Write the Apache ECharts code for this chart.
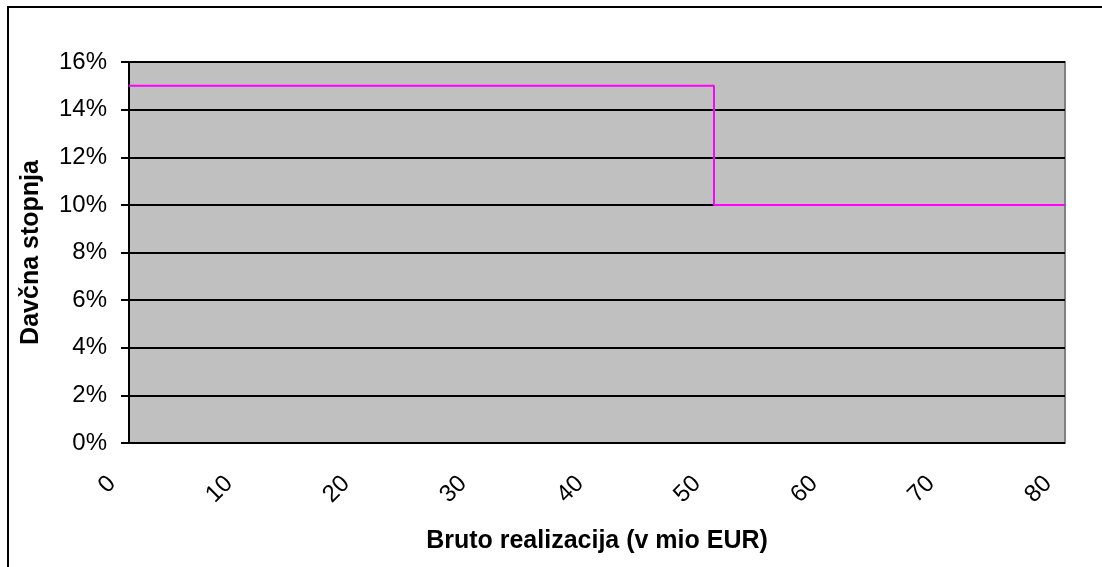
<!DOCTYPE html>
<html>
<head>
<meta charset="utf-8">
<script src="https://cdn.jsdelivr.net/npm/echarts@6/dist/echarts.min.js"></script>
<style>
  html, body { margin: 0; padding: 0; background: #fff; }
  #chart { width: 1102px; height: 567px; }
</style>
</head>
<body>
<div id="chart"></div>
<script>
// step line: rate 15% up to 50 mio EUR, then 10%
const xValues = [0, 50, 50, 80]
const rateValues = [15, 15, 10, 10]
const xTicks = [0, 10, 20, 30, 40, 50, 60, 70, 80]
const yTicks = [0, 2, 4, 6, 8, 10, 12, 14, 16]

const chart = echarts.init(document.getElementById('chart'))
const font = 'Liberation Sans, Arial, sans-serif'

chart.setOption({
  animation: false,
  textStyle: { fontFamily: font },
  graphic: [{
    type: 'rect',
    shape: { x: 8, y: 7, width: 1110, height: 580 },
    style: { fill: 'none', stroke: '#000', lineWidth: 2 },
    z: 100
  }],
  grid: {
    left: 129, right: 37, top: 62, bottom: 124,
    outerBoundsMode: 'none',
    containLabel: false,
    show: true,
    backgroundColor: '#c0c0c0',
    borderColor: '#808080',
    borderWidth: 2
  },
  xAxis: {
    type: 'value',
    min: xTicks[0],
    max: xTicks[xTicks.length - 1],
    interval: 10,
    name: 'Bruto realizacija (v mio EUR)',
    nameLocation: 'middle',
    nameGap: 86,
    nameTextStyle: { fontSize: 25, fontWeight: 'bold', color: '#000', fontFamily: font },
    axisLine: { show: false },
    axisTick: { show: false },
    splitLine: { show: false },
    axisLabel: { rotate: 45, margin: 20, padding: [0, 24, 0, 0], fontSize: 24, color: '#000', fontFamily: font }
  },
  yAxis: {
    type: 'value',
    min: yTicks[0],
    max: yTicks[yTicks.length - 1],
    interval: 2,
    name: 'Davčna stopnja',
    nameLocation: 'middle',
    nameGap: 85,
    nameTextStyle: { fontSize: 25, fontWeight: 'bold', color: '#000', fontFamily: font },
    axisLine: { show: true, lineStyle: { color: '#000', width: 2 } },
    axisTick: { show: true, length: 8, lineStyle: { color: '#000', width: 2 } },
    splitLine: { show: true, lineStyle: { color: '#000', width: 2 } },
    axisLabel: { formatter: '{value}%', margin: 22, fontSize: 24, color: '#000', fontFamily: font }
  },
  series: [{
    type: 'line',
    data: xValues.map((x, i) => [x, rateValues[i]]),
    symbol: 'none',
    lineStyle: { color: '#ff00ff', width: 2 },
    z: 5
  }]
})
</script>
</body>
</html>
